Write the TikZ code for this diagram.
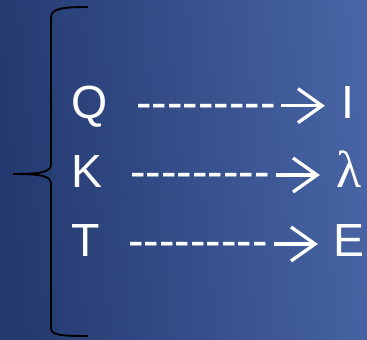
\documentclass[tikz,border=0pt]{standalone}
\usepackage{fontspec}
\setmainfont{Liberation Sans}
\newfontfamily\serifgr{Liberation Serif}
\definecolor{bgleft}{RGB}{35,57,111}
\definecolor{bgright}{RGB}{72,100,164}
\newcommand\hy{\mbox{-}}
\newcommand\hyrow{\hy\hy\hy\hy\hy\hy\hy\hy\hy}
\tikzset{
  rowtext/.style={anchor=base west, inner sep=0pt, text=white, font=\fontsize{46.5}{56}\selectfont},
  arrowline/.style={draw=white, line width=3.3pt, line cap=butt, line join=miter},
  bracestyle/.style={draw=black, line width=1.9pt}
}
\begin{document}
\begin{tikzpicture}[x=1pt,y=1pt]
\useasboundingbox (0,0) rectangle (367,340);
\shade[left color=bgleft, right color=bgright, shading angle=95] (0,0) rectangle (367,340);
\draw[bracestyle] (88,333) .. controls (60,333) and (51,331) .. (51,322) -- (51,176)
  .. controls (51,168) and (42,166) .. (13,166)
  .. controls (42,166) and (51,164) .. (51,156) -- (51,12)
  .. controls (51,5) and (60,4) .. (88,4);
% row 1
\node[rowtext] (q) at (71,221.5) {Q};
\node[rowtext] (d1) at (136,221.5) {\hyrow};
\node[rowtext] (i) at (341,221.5) {I};
\coordinate (a1s) at (281,234.3);
\coordinate (a1e) at (322,234.3);
\draw[arrowline] (a1s) -- (a1e);
\draw[arrowline] (a1e) ++(-24,17) -- (a1e) -- ++(-24,-17);
% row 2
\node[rowtext] (k) at (71,152) {K};
\node[rowtext] (d2) at (130,152) {\hyrow};
\node[rowtext, font=\fontsize{52}{60}\selectfont] (l) at (336,152) {\serifgr λ};
\coordinate (a2s) at (276,165);
\coordinate (a2e) at (317,165);
\draw[arrowline] (a2s) -- (a2e);
\draw[arrowline] (a2e) ++(-24,17) -- (a2e) -- ++(-24,-17);
% row 3
\node[rowtext] (t) at (71,83) {T};
\node[rowtext] (d3) at (128,83) {\hyrow};
\node[rowtext] (e) at (333,83) {E};
\coordinate (a3s) at (274,96);
\coordinate (a3e) at (315,96);
\draw[arrowline] (a3s) -- (a3e);
\draw[arrowline] (a3e) ++(-24,17) -- (a3e) -- ++(-24,-17);
\end{tikzpicture}
\end{document}
